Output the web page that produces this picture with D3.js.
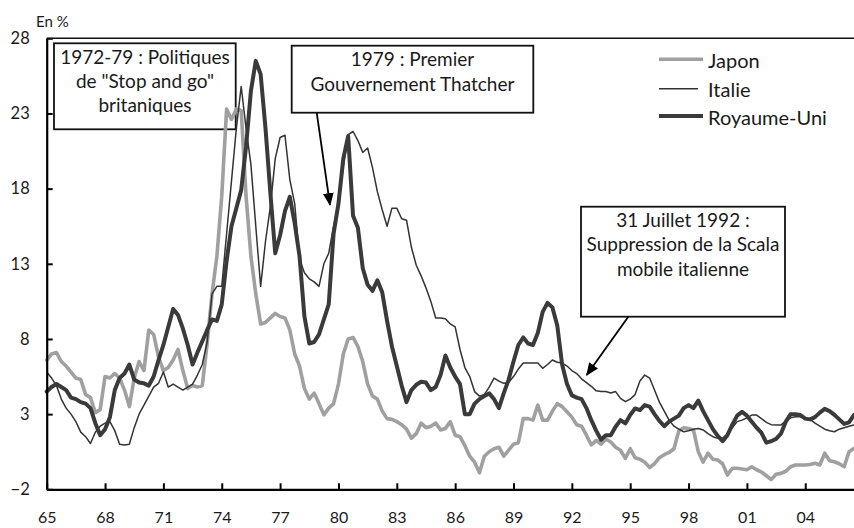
<!DOCTYPE html>
<html><head><meta charset="utf-8">
<script src="https://cdn.jsdelivr.net/npm/d3@7"></script>
<style>
body{margin:0;background:#fff}
text{font-family:Lato,"Open Sans",sans-serif;fill:#1a1a1a}
</style>
</head><body>
<svg id="chart" width="854" height="528"></svg>
<script>
// ---- DATA (quarterly, from 1965 Q1) ----
const startYear = 1965;
const japon = [
 6.6, 7.0, 7.1, 6.5, 6.2, 5.8, 5.4, 5.3, 4.3, 4.1,
 3.1, 3.3, 5.5, 5.4, 5.7, 5.4, 4.6, 3.5, 5.4, 6.5,
 5.9, 8.6, 8.3, 6.8, 5.9, 6.1, 6.6, 7.3, 5.9, 4.7,
 4.9, 4.8, 4.9, 7.7, 11.0, 13.5, 17.5, 23.3, 22.6, 23.3,
 23.2, 17.5, 13.5, 11.0, 9.0, 9.1, 9.4, 9.7, 9.5, 9.4,
 8.6, 7.0, 6.2, 4.7, 4.0, 4.4, 3.7, 2.95, 3.4, 3.7,
 5.0, 7.0, 8.0, 8.1, 7.5, 6.5, 5.0, 4.2, 4.0, 3.2,
 2.7, 2.65, 2.5, 2.3, 2.0, 1.4, 1.7, 2.4, 2.1, 2.2,
 2.4, 1.95, 2.05, 2.5, 1.6, 1.5, 0.9, 0.2, -0.2, -0.9,
 0.2, 0.5, 0.7, 0.8, 0.2, 0.6, 1.0, 1.1, 2.7, 2.7,
 2.6, 3.6, 2.6, 2.6, 3.2, 3.7, 3.5, 3.16, 2.8, 2.3,
 2.2, 1.6, 0.95, 1.25, 1.0, 1.35, 1.15, 0.8, 0.6, 0.06,
 0.7, 0.1, 0.0, -0.2, -0.55, -0.3, 0.1, 0.3, 0.45, 0.7,
 1.9, 2.1, 2.05, 1.95, 0.5, -0.2, 0.4, 0.0, -0.05, -0.3,
 -1.05, -0.6, -0.6, -0.65, -0.7, -0.5, -0.7, -0.85, -1.1, -1.35,
 -1.0, -0.94, -0.8, -0.5, -0.38, -0.38, -0.38, -0.35, -0.27, -0.38,
 0.4, -0.1, -0.17, -0.3, -0.5, 0.5, 0.72
];
const italie = [
 5.8, 5.4, 4.9, 4.0, 3.4, 3.0, 2.5, 1.8, 1.5, 1.05,
 1.8, 2.2, 2.4, 2.5, 1.9, 1.0, 0.95, 1.0, 2.1, 3.0,
 3.6, 4.2, 4.8, 5.05, 5.8, 4.8, 5.0, 4.8, 4.6, 4.8,
 5.0, 5.6, 6.3, 7.8, 11.0, 11.5, 11.5, 15.0, 18.5, 22.0,
 24.8, 22.0, 19.6, 15.5, 11.5, 14.5, 16.8, 20.0, 21.4, 21.55,
 18.6, 17.0, 13.3, 12.4, 12.0, 11.8, 11.5, 13.0, 13.7, 15.5,
 17.0, 19.5, 21.6, 21.8, 21.2, 20.4, 20.7, 19.4, 17.8, 16.6,
 15.5, 16.7, 16.7, 16.0, 15.9, 14.1, 12.9, 12.2, 11.4, 10.5,
 9.4, 9.4, 9.35, 9.0, 8.8, 7.3, 6.1, 5.5, 4.5, 4.2,
 4.3, 4.8, 5.4, 5.2, 5.05, 5.1, 5.5, 6.0, 6.4, 6.4,
 6.4, 6.4, 6.05, 6.3, 6.6, 6.45, 6.4, 6.2, 5.9, 5.7,
 5.35, 5.1, 4.85, 4.55, 4.5, 4.5, 4.4, 4.5, 4.05, 3.83,
 4.0, 4.3, 5.2, 5.6, 5.4, 4.6, 3.8, 3.2, 2.6, 2.2,
 2.0, 1.83, 1.9, 2.0, 2.05, 1.95, 1.7, 1.5, 1.39, 1.39,
 1.7, 2.1, 2.5, 2.6, 2.75, 2.94, 2.94, 2.7, 2.45, 2.3,
 2.27, 2.27, 2.55, 2.75, 2.83, 2.83, 2.75, 2.65, 2.4, 2.2,
 2.0, 1.9, 1.83, 2.0, 2.1, 2.2, 2.27
];
const royaumeUni = [
 4.5, 4.8, 5.0, 4.8, 4.6, 4.1, 4.0, 3.8, 3.7, 3.4,
 2.4, 1.6, 2.0, 2.8, 4.6, 5.4, 5.7, 6.3, 5.3, 5.1,
 5.05, 4.9, 5.5, 6.6, 7.6, 8.8, 10.0, 9.6, 8.7, 7.6,
 6.3, 7.1, 7.85, 8.6, 9.3, 9.2, 10.3, 13.2, 15.5, 16.7,
 17.9, 20.8, 24.5, 26.5, 25.6, 22.0, 17.7, 13.7, 14.9, 16.5,
 17.45, 15.7, 13.5, 9.5, 7.7, 7.8, 8.3, 9.3, 10.3, 15.0,
 17.0, 20.0, 21.5, 16.2, 15.4, 12.7, 11.6, 11.2, 11.9, 11.1,
 9.2, 7.5, 6.2, 4.9, 3.8, 4.6, 4.95, 5.15, 5.1, 4.6,
 4.8, 5.6, 6.9, 6.1, 5.5, 5.0, 3.0, 3.0, 3.7, 4.0,
 4.2, 4.38, 4.0, 3.4, 4.4, 5.3, 6.5, 7.6, 8.1, 7.7,
 7.6, 8.4, 9.8, 10.4, 10.1, 8.9, 6.3, 5.0, 4.25, 4.1,
 4.0, 3.4, 2.6, 1.9, 1.3, 1.6, 1.6, 2.16, 2.6, 2.38,
 2.94, 3.38, 3.27, 3.6, 3.5, 3.0, 2.55, 2.2, 2.5, 2.7,
 2.9, 3.4, 3.6, 3.4, 3.9, 3.2, 2.6, 2.0, 1.55, 1.2,
 1.6, 2.3, 2.9, 3.15, 2.9, 2.5, 2.1, 1.75, 1.1, 1.2,
 1.35, 1.7, 2.5, 3.0, 3.0, 2.94, 2.7, 2.65, 2.8, 3.1,
 3.35, 3.2, 2.95, 2.65, 2.35, 2.45, 2.94
];
const seriesNames = ["Japon", "Italie", "Royaume-Uni"];
const yTickValues = [-2, 3, 8, 13, 18, 23, 28];
const xTickYears = [1965, 1968, 1971, 1974, 1977, 1980, 1983, 1986, 1989, 1992, 1995, 1998, 2001, 2004];
const xTickLabels = ["65", "68", "71", "74", "77", "80", "83", "86", "89", "92", "95", "98", "01", "04"];
const unitLabel = "En %";
const note1 = ["1972-79 : Politiques", "de \"Stop and go\"", "britaniques"];
const note2 = ["1979 : Premier", "Gouvernement Thatcher"];
const note3 = ["31 Juillet 1992 :", "Suppression de la Scala", "mobile italienne"];

(function () {
// ---- LAYOUT ----
const mL = 46.7, mR = 854, mT = 38.3, mB = 489.3;
const pxPerYear = 19.45;
const svg = d3.select("#chart");

const x = d3.scaleLinear().domain([startYear, startYear + (mR - mL) / pxPerYear]).range([mL, mR]);
const y = d3.scaleLinear().domain([-2, 28]).range([mB, mT]);

const styles = {
  "Japon": {color: "#a0a0a0", width: 3.6},
  "Italie": {color: "#333333", width: 1.5},
  "Royaume-Uni": {color: "#3a3a3a", width: 4}
};

svg.append("defs").append("marker")
  .attr("id", "arr").attr("viewBox", "0 0 12 10").attr("refX", 11).attr("refY", 5)
  .attr("markerWidth", 13).attr("markerHeight", 11).attr("markerUnits", "userSpaceOnUse")
  .attr("orient", "auto")
  .append("path").attr("d", "M0,0 L12,5 L0,10 Z").attr("fill", "#000");

const boxes = [
  {x: 54, y: 43.3, w: 181.7, h: 86, lines: note1, cx: 145, base: [63.5, 88, 112.3]},
  {x: 291.7, y: 45.7, w: 241.6, h: 67, lines: note2, cx: 412.5, base: [65.5, 90.5]},
  {x: 581, y: 206.7, w: 204, h: 110, lines: note3, cx: 683, base: [226.5, 251, 275.5]}
];
boxes.forEach(b => {
  svg.append("rect").attr("x", b.x).attr("y", b.y).attr("width", b.w).attr("height", b.h)
    .attr("fill", "#fff").attr("stroke", "#111").attr("stroke-width", 1.8);
});

const seriesData = {"Japon": japon, "Italie": italie, "Royaume-Uni": royaumeUni};
const line = d3.line().x((d, i) => x(startYear + i / 4)).y(d => y(d)).curve(d3.curveLinear);
seriesNames.forEach(name => {
  svg.append("path").datum(seriesData[name]).attr("d", line)
    .attr("fill", "none").attr("stroke", styles[name].color)
    .attr("stroke-width", styles[name].width).attr("stroke-linejoin", "round").attr("stroke-linecap", "round");
});

boxes.forEach(b => {
  b.lines.forEach((t, i) => {
    svg.append("text").attr("x", b.cx).attr("y", b.base[i]).attr("text-anchor", "middle")
      .attr("font-size", 19).text(t);
  });
});

const arrows = [
  {x1: 316.7, y1: 112.7, x2: 330, y2: 205},
  {x1: 628.3, y1: 316.7, x2: 586.7, y2: 375}
];
arrows.forEach(a => {
  svg.append("line").attr("x1", a.x1).attr("y1", a.y1).attr("x2", a.x2).attr("y2", a.y2)
    .attr("stroke", "#000").attr("stroke-width", 1.8).attr("marker-end", "url(#arr)");
});

const yAxis = d3.axisLeft(y).tickValues(yTickValues).tickSizeInner(-6).tickSizeOuter(0).tickPadding(17)
  .tickFormat(d3.format("d"));
const gy = svg.append("g").attr("transform", `translate(${mL},0)`).call(yAxis);
gy.selectAll("text").attr("font-size", 16.5).attr("fill", "#1a1a1a").attr("font-family", "Lato, sans-serif");
gy.selectAll("line").attr("stroke", "#000").attr("stroke-width", 2);
gy.select(".domain").attr("stroke", "#000").attr("stroke-width", 2.2);

const xAxis = d3.axisBottom(x).tickValues(xTickYears).tickSizeInner(-6).tickSizeOuter(0).tickPadding(22.5)
  .tickFormat((d, i) => xTickLabels[i]);
const gx = svg.append("g").attr("transform", `translate(0,${mB})`).call(xAxis);
gx.selectAll("text").attr("font-size", 16).attr("fill", "#1a1a1a").attr("font-family", "Lato, sans-serif");
gx.selectAll("line").attr("stroke", "#000").attr("stroke-width", 2);
gx.select(".domain").attr("stroke", "#000").attr("stroke-width", 2.2);

svg.append("line").attr("x1", mL).attr("x2", mR).attr("y1", mT).attr("y2", mT)
  .attr("stroke", "#111").attr("stroke-width", 1.4);

svg.append("text").attr("x", 36).attr("y", 26.5).attr("font-size", 15).text(unitLabel);

const legY = [59.3, 88.7, 116];
seriesNames.forEach((name, i) => {
  svg.append("line").attr("x1", 659).attr("x2", name === "Italie" ? 698 : 703)
    .attr("y1", legY[i]).attr("y2", legY[i])
    .attr("stroke", styles[name].color).attr("stroke-width", styles[name].width);
  svg.append("text").attr("x", 708).attr("y", legY[i] + 8.5).attr("font-size", 20).text(name);
});
})();
</script>
</body></html>
